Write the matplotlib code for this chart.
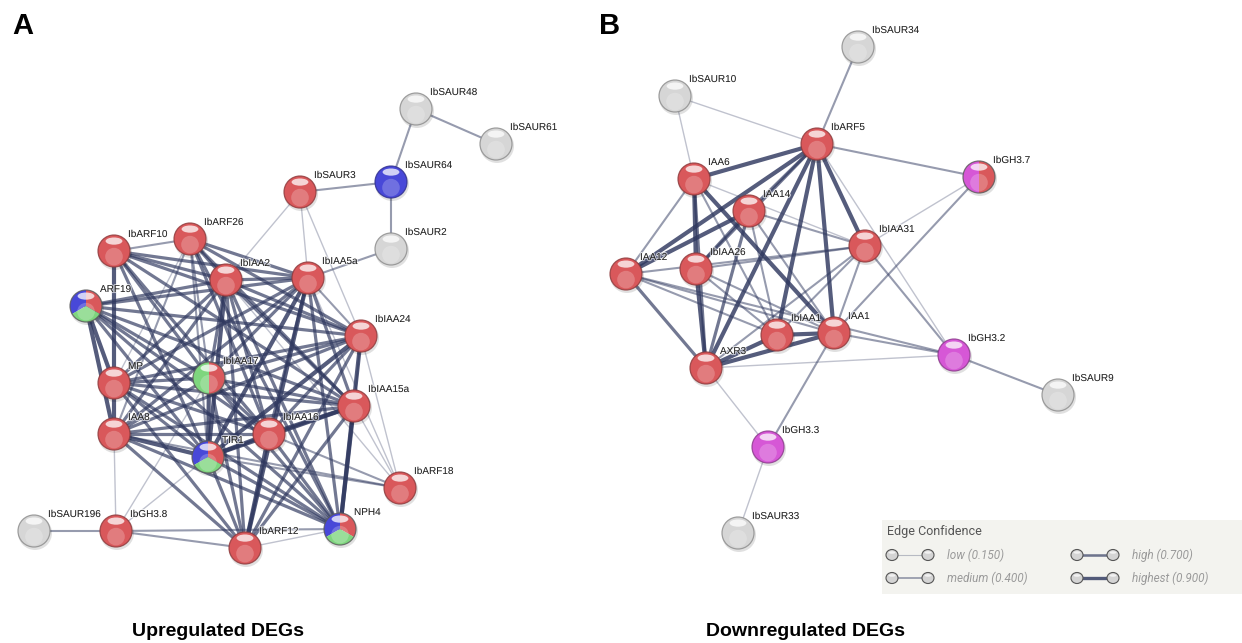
import matplotlib
matplotlib.use("Agg")
import matplotlib.pyplot as plt
import matplotlib.patheffects as pe
from matplotlib.patches import Circle, Wedge, Ellipse, Rectangle
from matplotlib.colors import to_rgb

plt.rcParams["font.family"] = ["Liberation Sans", "DejaVu Sans"]

# ## Network data (node layout, pixel units)

up_names = ["IbSAUR48", "IbSAUR61", "IbSAUR64", "IbSAUR3", "IbSAUR2", "IbARF10", "IbARF26",
            "IbIAA2", "IbIAA5a", "ARF19", "IbIAA24", "MP", "IbIAA17", "IbIAA15a", "IAA8",
            "IbIAA16", "TIR1", "IbARF18", "IbSAUR196", "IbGH3.8", "IbARF12", "NPH4"]
up_x = [416, 496, 391, 300, 391, 114, 190, 226, 308, 86, 361, 114, 209, 354, 114,
        269, 208, 400, 34, 116, 245, 340]
up_y = [109, 144, 182, 192, 249, 251, 239, 280, 278, 306, 336, 383, 378, 406, 434,
        434, 457, 488, 531, 531, 548, 529]
up_groups = ["W", "W", "B", "R", "W", "R", "R", "R", "R", "RBG", "R", "R", "GR", "R", "R",
             "R", "RBG", "R", "W", "R", "R", "RBG"]

# (node a, node b, combined score)
up_edges = [
    ("IbSAUR3", "IbSAUR64", 0.4), ("IbSAUR64", "IbSAUR2", 0.4), ("IbSAUR64", "IbSAUR48", 0.4),
    ("IbSAUR48", "IbSAUR61", 0.4), ("IbSAUR2", "IbIAA5a", 0.4), ("IbSAUR3", "IbIAA2", 0.15),
    ("IbSAUR3", "IbIAA5a", 0.15), ("IbSAUR3", "IbIAA24", 0.15),
    ("IbARF10", "IbARF26", 0.4), ("IbARF10", "IbIAA2", 0.7), ("IbARF10", "IbIAA5a", 0.7),
    ("IbARF10", "MP", 0.9), ("IbARF10", "IbIAA17", 0.7), ("IbARF10", "IbIAA24", 0.7),
    ("IbARF10", "IbIAA15a", 0.7), ("IbARF10", "IbIAA16", 0.7), ("IbARF10", "TIR1", 0.7),
    ("IbARF26", "IbIAA2", 0.7), ("IbARF26", "IbIAA5a", 0.7), ("IbARF26", "IbIAA24", 0.7),
    ("IbARF26", "MP", 0.15), ("IbARF26", "IbIAA17", 0.4), ("IbARF26", "IbIAA15a", 0.7),
    ("IbARF26", "IbIAA16", 0.7), ("IbARF26", "TIR1", 0.4), ("IbARF26", "IAA8", 0.4),
    ("IbARF26", "NPH4", 0.7),
    ("IbIAA2", "IbIAA5a", 0.7), ("IbIAA2", "ARF19", 0.7), ("IbIAA2", "MP", 0.7),
    ("IbIAA2", "IAA8", 0.7), ("IbIAA2", "IbIAA17", 0.7), ("IbIAA2", "IbIAA24", 0.7),
    ("IbIAA2", "IbIAA15a", 0.7), ("IbIAA2", "IbIAA16", 0.7), ("IbIAA2", "TIR1", 0.9),
    ("IbIAA2", "NPH4", 0.7), ("IbIAA2", "IbARF12", 0.7), ("IbIAA2", "IbARF18", 0.15),
    ("IbIAA5a", "ARF19", 0.7), ("IbIAA5a", "MP", 0.7), ("IbIAA5a", "IAA8", 0.7),
    ("IbIAA5a", "IbIAA17", 0.7), ("IbIAA5a", "IbIAA24", 0.4), ("IbIAA5a", "IbIAA15a", 0.7),
    ("IbIAA5a", "IbIAA16", 0.7), ("IbIAA5a", "TIR1", 0.9), ("IbIAA5a", "NPH4", 0.7),
    ("IbIAA5a", "IbARF12", 0.9), ("IbIAA5a", "IbARF18", 0.15),
    ("ARF19", "MP", 0.9), ("ARF19", "IAA8", 0.9), ("ARF19", "IbIAA17", 0.7),
    ("ARF19", "IbIAA24", 0.7), ("ARF19", "IbIAA15a", 0.7), ("ARF19", "IbIAA16", 0.7),
    ("ARF19", "TIR1", 0.7), ("ARF19", "NPH4", 0.7),
    ("IbIAA24", "MP", 0.7), ("IbIAA24", "IAA8", 0.7), ("IbIAA24", "IbIAA17", 0.7),
    ("IbIAA24", "IbIAA15a", 0.4), ("IbIAA24", "IbIAA16", 0.7), ("IbIAA24", "TIR1", 0.9),
    ("IbIAA24", "NPH4", 0.9), ("IbIAA24", "IbARF12", 0.7), ("IbIAA24", "IbARF18", 0.15),
    ("MP", "IAA8", 0.9), ("MP", "IbIAA17", 0.7), ("MP", "IbIAA15a", 0.7),
    ("MP", "IbIAA16", 0.7), ("MP", "TIR1", 0.7), ("MP", "NPH4", 0.7), ("MP", "IbARF12", 0.7),
    ("IbIAA17", "IbIAA15a", 0.7), ("IbIAA17", "IbIAA16", 0.7), ("IbIAA17", "TIR1", 0.9),
    ("IbIAA17", "NPH4", 0.7), ("IbIAA17", "IbARF12", 0.7), ("IbIAA17", "IAA8", 0.7),
    ("IbIAA17", "IbGH3.8", 0.15),
    ("IbIAA15a", "IAA8", 0.7), ("IbIAA15a", "IbIAA16", 0.9), ("IbIAA15a", "TIR1", 0.9),
    ("IbIAA15a", "NPH4", 0.9), ("IbIAA15a", "IbARF12", 0.7), ("IbIAA15a", "IbARF18", 0.15),
    ("IAA8", "IbIAA16", 0.7), ("IAA8", "TIR1", 0.9), ("IAA8", "NPH4", 0.7),
    ("IAA8", "IbARF12", 0.7), ("IAA8", "IbARF18", 0.4), ("IAA8", "IbGH3.8", 0.15),
    ("IbIAA16", "TIR1", 0.9), ("IbIAA16", "NPH4", 0.7), ("IbIAA16", "IbARF12", 0.9),
    ("IbIAA16", "IbARF18", 0.4),
    ("TIR1", "NPH4", 0.7), ("TIR1", "IbARF12", 0.7), ("TIR1", "IbGH3.8", 0.15),
    ("TIR1", "IbARF18", 0.4),
    ("IbGH3.8", "IbARF12", 0.4), ("IbGH3.8", "NPH4", 0.4), ("IbGH3.8", "IbSAUR196", 0.4),
    ("IbARF12", "NPH4", 0.15),
]

down_names = ["IbSAUR34", "IbSAUR10", "IbARF5", "IbGH3.7", "IAA6", "IAA14", "IbIAA31",
              "IAA12", "IbIAA26", "IbIAA1", "IAA1", "IbGH3.2", "AXR3", "IbSAUR9",
              "IbGH3.3", "IbSAUR33"]
down_x = [858, 675, 817, 979, 694, 749, 865, 626, 696, 777, 834, 954, 706, 1058, 768, 738]
down_y = [47, 96, 144, 177, 179, 211, 246, 274, 269, 335, 333, 355, 368, 395, 447, 533]
down_groups = ["W", "W", "R", "MR", "R", "R", "R", "R", "R", "R", "R", "M", "R", "W", "M", "W"]

down_edges = [
    ("IbSAUR34", "IbARF5", 0.4), ("IbSAUR10", "IbARF5", 0.15), ("IbSAUR10", "IAA6", 0.15),
    ("IbARF5", "IbGH3.7", 0.4), ("IbARF5", "IAA6", 0.9), ("IbARF5", "IAA14", 0.7),
    ("IbARF5", "IAA12", 0.9), ("IbARF5", "IbIAA26", 0.7), ("IbARF5", "IbIAA1", 0.9),
    ("IbARF5", "IAA1", 0.9), ("IbARF5", "IbIAA31", 0.9), ("IbARF5", "AXR3", 0.9),
    ("IbARF5", "IbGH3.2", 0.15),
    ("IAA6", "IAA12", 0.4), ("IAA6", "IbIAA26", 0.9), ("IAA6", "AXR3", 0.7),
    ("IAA6", "IbIAA1", 0.4), ("IAA6", "IAA1", 0.9), ("IAA6", "IbIAA31", 0.15),
    ("IAA14", "IAA12", 0.9), ("IAA14", "IbIAA26", 0.7), ("IAA14", "AXR3", 0.7),
    ("IAA14", "IbIAA1", 0.4), ("IAA14", "IAA1", 0.4), ("IAA14", "IbIAA31", 0.4),
    ("IAA12", "IbIAA31", 0.4), ("IAA12", "AXR3", 0.7), ("IAA12", "IbIAA1", 0.4),
    ("IAA12", "IAA1", 0.4), ("IAA12", "IbGH3.2", 0.4),
    ("IbIAA26", "AXR3", 0.9), ("IbIAA26", "IbIAA1", 0.4), ("IbIAA26", "IAA1", 0.4),
    ("IbIAA26", "IbIAA31", 0.4),
    ("IbIAA31", "AXR3", 0.4), ("IbIAA31", "IbIAA1", 0.4), ("IbIAA31", "IAA1", 0.4),
    ("IbIAA31", "IbGH3.2", 0.4), ("IbIAA31", "IbGH3.7", 0.15),
    ("IbIAA1", "IAA1", 0.9), ("IbIAA1", "AXR3", 0.9),
    ("IAA1", "AXR3", 0.9), ("IAA1", "IbGH3.2", 0.4), ("IAA1", "IbGH3.3", 0.4),
    ("IAA1", "IbGH3.7", 0.4),
    ("AXR3", "IbGH3.2", 0.15), ("AXR3", "IbGH3.3", 0.15),
    ("IbGH3.2", "IbSAUR9", 0.4), ("IbGH3.3", "IbSAUR33", 0.15),
]

legend_labels = ["low (0.150)", "medium (0.400)", "high (0.700)", "highest (0.900)"]
legend_scores = [0.15, 0.4, 0.7, 0.9]

# ## Styles

group_colors = {"R": "#d9585b", "B": "#4848d8", "G": "#7ed67e", "W": "#d6d6d6", "M": "#d657d6"}
EDGE_COLOR = "#2f385f"


def edge_style(score):
    if score >= 0.9:
        return 3.0, 0.82
    if score >= 0.7:
        return 2.3, 0.68
    if score >= 0.4:
        return 1.5, 0.5
    return 1.0, 0.3


def darker(c, f=0.65):
    r, g, b = to_rgb(c)
    return (r * f, g * f, b * f)


def draw_sphere(ax, x, y, group, r=16):
    cols = [group_colors[g] for g in group]
    # faint shadow under the ball
    ax.add_patch(Ellipse((x + 1, y + 2), 2 * r + 2, 2 * r + 2, facecolor="black", alpha=0.12,
                         edgecolor="none", zorder=4))
    if len(cols) == 1:
        ax.add_patch(Circle((x, y), r, facecolor=cols[0], edgecolor="none", zorder=5))
        rim = darker(cols[0])
    elif len(cols) == 2:
        # left half / right half (y axis is inverted)
        ax.add_patch(Wedge((x, y), r, 90, 270, facecolor=cols[0], edgecolor="none", zorder=5))
        ax.add_patch(Wedge((x, y), r, -90, 90, facecolor=cols[1], edgecolor="none", zorder=5))
        rim = (0.35, 0.35, 0.35)
    else:
        # red upper right, blue upper left, green bottom
        ax.add_patch(Wedge((x, y), r, -90, 30, facecolor=cols[0], edgecolor="none", zorder=5))
        ax.add_patch(Wedge((x, y), r, 150, 270, facecolor=cols[1], edgecolor="none", zorder=5))
        ax.add_patch(Wedge((x, y), r, 30, 150, facecolor=cols[2], edgecolor="none", zorder=5))
        rim = (0.35, 0.35, 0.35)
    # soft glow in lower half
    ax.add_patch(Circle((x, y + r * 0.35), r * 0.55, facecolor="white", alpha=0.22,
                        edgecolor="none", zorder=6))
    # outline
    ax.add_patch(Circle((x, y), r, facecolor="none", edgecolor=rim, lw=0.9, alpha=0.8, zorder=7))
    # specular highlight
    ax.add_patch(Ellipse((x, y - r * 0.62), r * 1.05, r * 0.45, facecolor="white", alpha=0.75,
                         edgecolor="none", zorder=8))


def draw_network(ax, names, xs, ys, groups, edges):
    pos = {n: (px, py) for n, px, py in zip(names, xs, ys)}
    for a, b, s in sorted(edges, key=lambda e: e[2]):
        lw, al = edge_style(s)
        ax.plot([pos[a][0], pos[b][0]], [pos[a][1], pos[b][1]], color=EDGE_COLOR,
                lw=lw, alpha=al, solid_capstyle="round", zorder=2)
    for n, px, py, g in zip(names, xs, ys, groups):
        draw_sphere(ax, px, py, g)
        ax.text(px + 14, py - 17, n, fontsize=7.2, color="#222222", ha="left", va="center",
                zorder=9,
                path_effects=[pe.withStroke(linewidth=1.6, foreground="white", alpha=0.6)])


fig = plt.figure(figsize=(12.42, 6.43), dpi=100)
ax = fig.add_axes([0, 0, 1, 1])
ax.set_xlim(0, 1242)
ax.set_ylim(643, 0)
ax.axis("off")

draw_network(ax, up_names, up_x, up_y, up_groups, up_edges)
draw_network(ax, down_names, down_x, down_y, down_groups, down_edges)

# panel letters and titles
ax.text(12, 26, "A", fontsize=21, fontweight="bold", ha="left", va="center")
ax.text(599, 26, "B", fontsize=21, fontweight="bold", ha="left", va="center")
ax.text(218, 632, "Upregulated DEGs", fontsize=14, fontweight="bold", ha="center", va="center")
ax.text(805, 632, "Downregulated DEGs", fontsize=14, fontweight="bold", ha="center", va="center")

# ## Edge confidence legend
ax.add_patch(Rectangle((882, 520), 360, 74, facecolor="#f3f3ef", edgecolor="none", zorder=1))
ax.text(887, 531, "Edge Confidence", fontsize=9, color="#555555", family="Roboto",
        ha="left", va="center")
leg_x = [892, 892, 1077, 1077]
leg_y = [555, 578, 555, 578]
for lab, s, lx, ly in zip(legend_labels, legend_scores, leg_x, leg_y):
    lw, al = edge_style(s)
    ax.plot([lx, lx + 36], [ly, ly], color=EDGE_COLOR, lw=lw * 0.8, alpha=al, zorder=2)
    for cx in (lx, lx + 36):
        ax.add_patch(Ellipse((cx, ly), 12, 11, facecolor="#d4d4d4", edgecolor="#555555",
                             lw=0.8, zorder=3))
        ax.add_patch(Ellipse((cx, ly - 2.5), 7, 2.5, facecolor="white", alpha=0.7,
                             edgecolor="none", zorder=4))
    ax.text(lx + 55, ly, lab, fontsize=8.5, color="#9a9a9a", style="italic", family="Roboto",
            ha="left", va="center")

fig.savefig("out.png", dpi=100)
